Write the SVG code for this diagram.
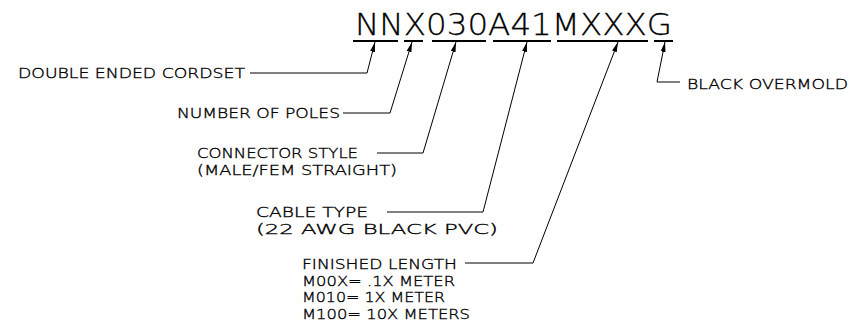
<svg xmlns="http://www.w3.org/2000/svg" width="867" height="336" viewBox="0 0 867 336">
<defs>
<style>
.t{font-family:"DejaVu Sans","Liberation Sans",sans-serif;font-size:14px;font-weight:200;fill:#000;stroke:#000;stroke-width:0.35;}
.code{font-family:"DejaVu Sans","Liberation Sans",sans-serif;font-size:30px;font-weight:200;fill:#000;stroke:#000;stroke-width:0.3;}
.ul{stroke:#000;stroke-width:2;fill:none;}
.ld{stroke:#000;stroke-width:1;fill:none;marker-end:url(#ah);}
</style>
<marker id="ah" markerUnits="userSpaceOnUse" markerWidth="11" markerHeight="6" refX="10" refY="2.5" orient="auto">
<path d="M0,0 L10,2.5 L0,5 Z" fill="#000"/>
</marker>
</defs>
<rect width="867" height="336" fill="#fff"/>
<g id="code">
<text class="code" x="355" y="35" textLength="317" lengthAdjust="spacingAndGlyphs">NNX030A41MXXXG</text>
<line class="ul" x1="353" y1="41" x2="398" y2="41"/>
<line class="ul" x1="404" y1="41" x2="423" y2="41"/>
<line class="ul" x1="432" y1="41" x2="486" y2="41"/>
<line class="ul" x1="493" y1="41" x2="551" y2="41"/>
<line class="ul" x1="557" y1="41" x2="648" y2="41"/>
<line class="ul" x1="654" y1="41" x2="673" y2="41"/>
</g>
<g id="n1"><text class="t" x="18" y="78" textLength="227" lengthAdjust="spacingAndGlyphs">DOUBLE ENDED CORDSET</text></g>
<g id="n2"><text class="t" x="177" y="118" textLength="163" lengthAdjust="spacingAndGlyphs">NUMBER OF POLES</text></g>
<g id="n3">
<text class="t" x="197" y="158" textLength="161" lengthAdjust="spacingAndGlyphs">CONNECTOR STYLE</text>
<text class="t" x="197" y="175" textLength="200" lengthAdjust="spacingAndGlyphs">(MALE/FEM STRAIGHT)</text>
</g>
<g id="n4">
<text class="t" x="256" y="217" textLength="112" lengthAdjust="spacingAndGlyphs">CABLE TYPE</text>
<text class="t" x="256" y="234" textLength="242" lengthAdjust="spacingAndGlyphs">(22 AWG BLACK PVC)</text>
</g>
<g id="n5">
<text class="t" x="302" y="269" textLength="155" lengthAdjust="spacingAndGlyphs">FINISHED LENGTH</text>
<text class="t" x="302" y="285.7" textLength="153" lengthAdjust="spacingAndGlyphs">M00X= .1X METER</text>
<text class="t" x="302" y="302.4" textLength="143" lengthAdjust="spacingAndGlyphs">M010= 1X METER</text>
<text class="t" x="302" y="319" textLength="168" lengthAdjust="spacingAndGlyphs">M100= 10X METERS</text>
</g>
<g id="n6"><text class="t" x="687" y="89" textLength="161" lengthAdjust="spacingAndGlyphs">BLACK OVERMOLD</text></g>
<g id="connectors">
<polyline class="ld" points="250,73 367,73 375,42"/>
<polyline class="ld" points="343,113 390,113 412,42"/>
<polyline class="ld" points="377,153 423,153 456,42"/>
<polyline class="ld" points="387,212 483,212 527,42"/>
<polyline class="ld" points="465,263 533,263 618,42"/>
<polyline class="ld" points="680,82 657,82 665,42"/>
</g>
</svg>
